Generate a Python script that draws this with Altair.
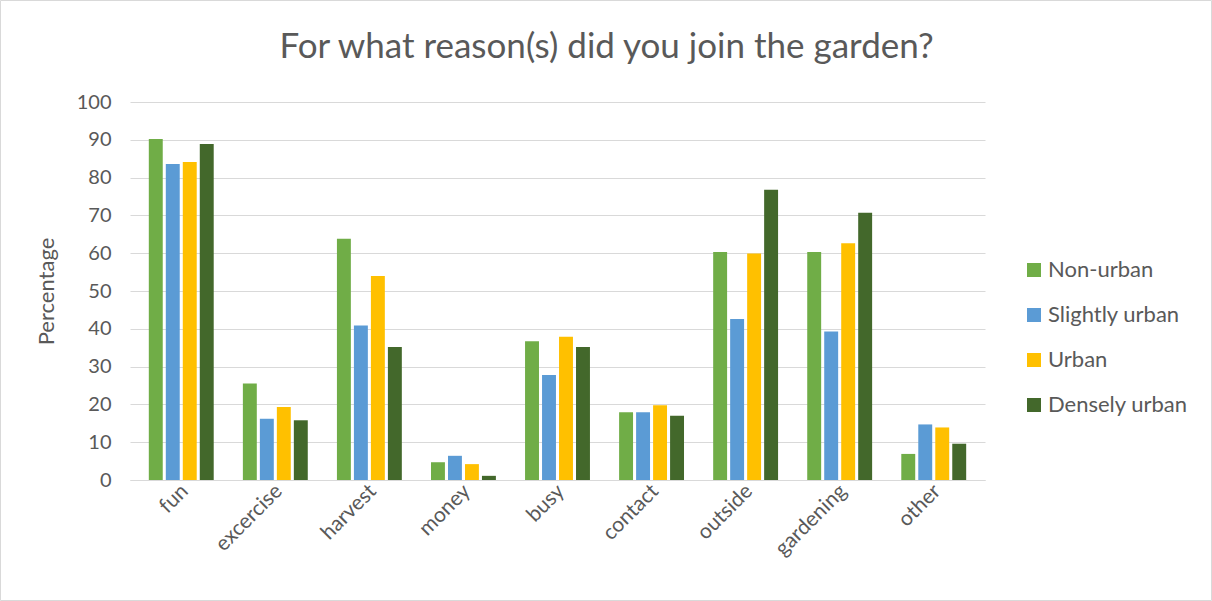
import altair as alt
import pandas as pd

categories = ["fun", "excercise", "harvest", "money", "busy", "contact", "outside", "gardening", "other"]
series = ["Non-urban", "Slightly urban", "Urban", "Densely urban"]
non_urban = [90.2, 25.5, 63.8, 4.7, 36.7, 17.9, 60.3, 60.3, 6.9]
slightly_urban = [83.6, 16.2, 40.9, 6.4, 27.8, 17.9, 42.6, 39.3, 14.7]
urban = [84.1, 19.3, 54.0, 4.2, 37.9, 19.8, 59.9, 62.6, 13.9]
densely_urban = [88.9, 15.8, 35.2, 1.1, 35.2, 17.0, 76.8, 70.7, 9.6]
colors = ["#70ad47", "#5b9bd5", "#ffc000", "#43682b"]

rows = []
for s, vals in zip(series, [non_urban, slightly_urban, urban, densely_urban]):
    for c, v in zip(categories, vals):
        rows.append({"category": c, "series": s, "value": v})
df = pd.DataFrame(rows)

W, H = 855, 378
FONT = "Lato"
GRAY = "#595959"

bars = alt.Chart(df).mark_bar().encode(
    x=alt.X("category:N", sort=categories, title=None,
            scale=alt.Scale(paddingInner=0.31, paddingOuter=0.2),
            axis=alt.Axis(labelAngle=-45, labelFontSize=21, labelColor=GRAY, labelFont=FONT,
                          ticks=False, domain=True, domainColor="#d9d9d9", labelPadding=0,
                          labelOffset=-4)),
    xOffset=alt.XOffset("series:N", sort=series, scale=alt.Scale(paddingInner=0.18)),
    y=alt.Y("value:Q", title="Percentage",
            scale=alt.Scale(domain=[0, 100]),
            axis=alt.Axis(values=list(range(0, 101, 10)), labelFontSize=20, labelColor=GRAY,
                          labelFont=FONT, titleFont=FONT, titleFontSize=22, titleColor=GRAY,
                          titleFontWeight="normal", ticks=False, domain=False,
                          gridColor="#d9d9d9", labelPadding=19, titlePadding=18)),
    color=alt.Color("series:N", sort=series, title=None,
                    scale=alt.Scale(domain=series, range=colors),
                    legend=alt.Legend(orient="none", legendX=893, legendY=157,
                                      symbolType="square", symbolSize=196, symbolStrokeWidth=0,
                                      labelFontSize=22, labelFont=FONT, labelColor=GRAY,
                                      rowPadding=23, labelOffset=3)),
)

border = alt.Chart(pd.DataFrame({"a": [0]})).mark_rect(
    fill=None, stroke="#d9d9d9", strokeWidth=1, clip=False
).encode(x=alt.value(-129.5), x2=alt.value(W + 226.5), y=alt.value(-101.5), y2=alt.value(H + 120.5))

chart = alt.layer(bars, border).properties(
    width=W, height=H,
    background="white",
    title=alt.Title("For what reason(s) did you join the garden?", fontSize=35, font=FONT,
                    color=GRAY, fontWeight="normal", anchor="middle", dx=49, offset=-65),
    autosize=alt.AutoSizeParams(type="none"),
    padding={"left": 130, "top": 102, "right": 227, "bottom": 121},
).configure_view(strokeWidth=0, stroke="transparent")

chart.save("out.html", embed_options={"renderer": "svg", "actions": False})
